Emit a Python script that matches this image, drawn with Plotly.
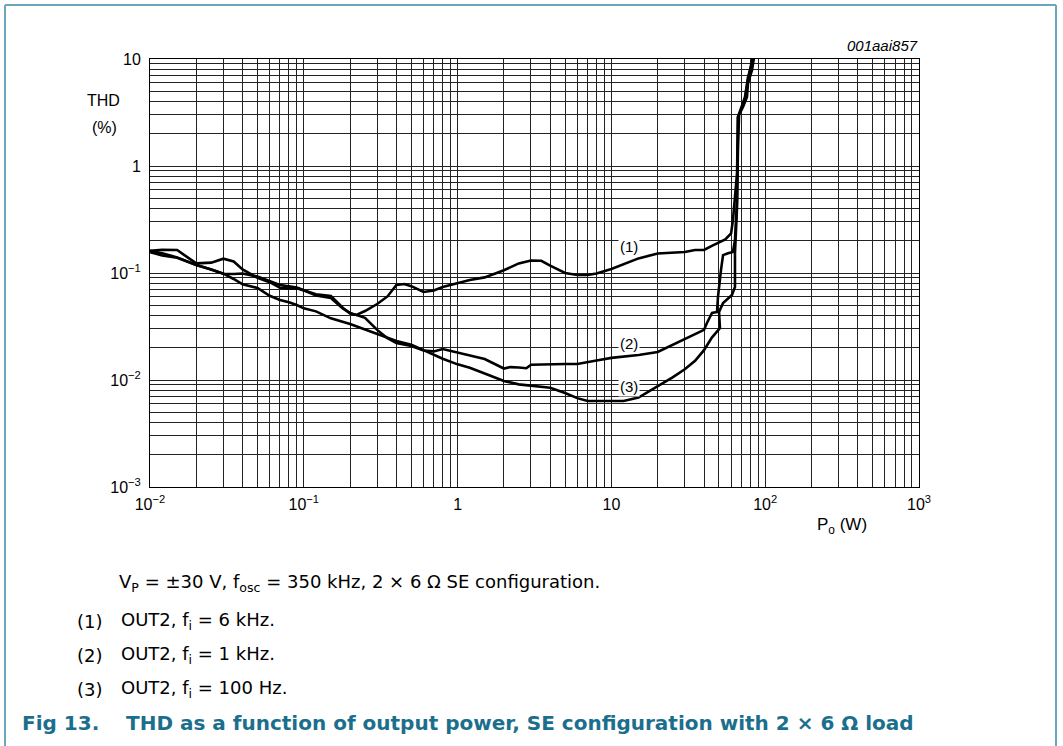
import plotly.graph_objects as go

# ---------------- data ----------------
p_6k = [0.01, 0.012, 0.015, 0.02, 0.025, 0.03, 0.035, 0.04, 0.05, 0.06, 0.07, 0.08, 0.09, 0.1,
        0.12, 0.15, 0.18, 0.2, 0.22, 0.25, 0.3, 0.35, 0.4, 0.45, 0.5, 0.6, 0.7, 0.8, 1, 1.2, 1.5,
        2, 2.5, 3, 3.5, 4, 5, 6, 7, 8, 10, 12, 15, 20, 25, 30, 35, 40, 45, 50, 55, 60, 61.7,
        63.6, 65.6, 66.5, 71.7, 76.1, 77.3, 82.1, 84.6]
thd_6k = [0.161, 0.165, 0.164, 0.123, 0.125, 0.136, 0.128, 0.108, 0.090, 0.082, 0.0727, 0.0715,
          0.0722, 0.069, 0.0632, 0.0609, 0.0471, 0.0418, 0.0405, 0.0441, 0.0513, 0.0604, 0.0772,
          0.0789, 0.0753, 0.0664, 0.0686, 0.0741, 0.0808, 0.086, 0.091, 0.106, 0.123, 0.131, 0.130,
          0.117, 0.100, 0.0958, 0.0958, 0.099, 0.109, 0.121, 0.137, 0.152, 0.154, 0.157, 0.164,
          0.164, 0.179, 0.193, 0.206, 0.234, 0.313, 0.513, 0.860, 2.87, 3.56, 4.41, 5.96, 7.89, 10.4]

p_1k = [0.01, 0.012, 0.015, 0.02, 0.025, 0.03, 0.035, 0.04, 0.05, 0.06, 0.07, 0.08, 0.09, 0.1,
        0.12, 0.15, 0.18, 0.2, 0.25, 0.3, 0.35, 0.4, 0.5, 0.6, 0.7, 0.8, 1, 1.2, 1.5, 2, 2.2, 2.5,
        2.8, 3, 4, 5, 6, 7, 8, 10, 12, 15, 20, 25, 30, 35, 40, 41.8, 45.1, 48.6, 49.3, 51.6, 53.2,
        57.3, 61.7, 63.6, 65.6, 66.5, 67.6, 73.9, 77.3, 80.9, 83.0]
thd_1k = [0.161, 0.153, 0.140, 0.119, 0.108, 0.0985, 0.098, 0.099, 0.0925, 0.0842, 0.0772, 0.075,
          0.0733, 0.069, 0.0616, 0.0585, 0.0463, 0.0424, 0.0381, 0.0294, 0.0246, 0.0222, 0.0208,
          0.0189, 0.0185, 0.0195, 0.0180, 0.017, 0.0157, 0.0128, 0.0132, 0.0131, 0.0129, 0.0139,
          0.0141, 0.0141, 0.0141, 0.0148, 0.0152, 0.0161, 0.0166, 0.0171, 0.0183, 0.0214, 0.0240,
          0.0269, 0.0294, 0.0341, 0.0423, 0.0432, 0.0596, 0.107, 0.147, 0.153, 0.157, 0.203, 0.481,
          1.41, 3.00, 4.14, 6.36, 8.79, 10.4]

p_100 = [0.01, 0.012, 0.015, 0.02, 0.025, 0.03, 0.035, 0.04, 0.05, 0.06, 0.07, 0.08, 0.09, 0.1,
         0.12, 0.15, 0.2, 0.25, 0.3, 0.4, 0.5, 0.6, 0.7, 0.8, 1, 1.2, 1.5, 2, 2.5, 3, 4, 5, 6, 7,
         8, 10, 12, 15, 20, 25, 30, 35, 40, 45, 50.8, 50.1, 53.2, 60.8, 63.6, 63.6, 65.6, 66.5,
         73.9, 77.3, 84.6]
thd_100 = [0.157, 0.146, 0.139, 0.119, 0.108, 0.0985, 0.0879, 0.0783, 0.0724, 0.0613, 0.0559,
           0.0533, 0.0502, 0.0467, 0.0438, 0.0377, 0.0334, 0.0297, 0.0268, 0.0232, 0.0214, 0.0189,
           0.0170, 0.0158, 0.0140, 0.0130, 0.0115, 0.0098, 0.0091, 0.0088, 0.00846, 0.00756,
           0.00677, 0.00636, 0.00636, 0.00636, 0.00636, 0.00685, 0.00875, 0.0106, 0.0126, 0.0151,
           0.019, 0.0249, 0.0306, 0.0432, 0.0524, 0.0623, 0.074, 0.153, 0.414, 2.87, 4.41, 6.79, 10.4]

series_names = ["(1)", "(2)", "(3)"]

x_tickvals = [0.01, 0.1, 1, 10, 100, 1000]
x_ticktext = ["10<sup>\u22122</sup>", "10<sup>\u22121</sup>", "1", "10", "10<sup>2</sup>", "10<sup>3</sup>"]
y_tickvals = [0.001, 0.01, 0.1, 1, 10]
y_ticktext = ["10<sup>\u22123</sup>", "10<sup>\u22122</sup>", "10<sup>\u22121</sup>", "1", "10"]

# ---------------- layout helpers (screen pixels) ----------------
W, H = 1063, 746
L, R, T, B = 150, 919, 59, 487


def px(x):
    return (x - L) / (R - L)


def py(y):
    return (B - y) / (B - T)


FONT = "Liberation Sans, Arial, sans-serif"
NOTE_FONT = "DejaVu Sans, Liberation Sans, sans-serif"
TEAL = "#1b6f8c"
BORDER = "#6aa6bd"
GRID = "#222222"

minor_x = [m * 10.0 ** e for e in range(-2, 3) for m in range(2, 10)]
minor_y = [m * 10.0 ** e for e in range(-3, 1) for m in range(2, 10)]

fig = go.Figure()
for name, xs, ys in zip(series_names, [p_6k, p_1k, p_100], [thd_6k, thd_1k, thd_100]):
    fig.add_trace(go.Scatter(x=xs, y=ys, mode="lines", name=name,
                             line=dict(color="black", width=2.6), showlegend=False))

axis_common = dict(type="log", showgrid=True, gridcolor=GRID, gridwidth=1,
                   showline=True, linecolor="black", linewidth=1, mirror=True,
                   ticks="", zeroline=False,
                   tickfont=dict(family=FONT, size=16, color="black"))

fig.update_xaxes(range=[-2, 3], tickvals=x_tickvals, ticktext=x_ticktext,
                 minor=dict(tickvals=minor_x, showgrid=True, gridcolor=GRID, gridwidth=1, ticks=""),
                 ticklabelstandoff=3, **axis_common)
fig.update_yaxes(range=[-3, 1], tickvals=y_tickvals, ticktext=y_ticktext,
                 minor=dict(tickvals=minor_y, showgrid=True, gridcolor=GRID, gridwidth=1, ticks=""),
                 ticklabelstandoff=5, **axis_common)

ann = []
# curve labels with white boxes (knock out the grid)
label_pos = [(629, 246), (629, 343), (629, 386)]
for name, (lx, ly) in zip(series_names, label_pos):
    ann.append(dict(x=px(lx), y=py(ly), xref="paper", yref="paper", text=name, showarrow=False,
                    font=dict(family=FONT, size=15, color="black"), bgcolor="white",
                    borderpad=1, xanchor="center", yanchor="middle"))

# axis titles and figure code
ann.append(dict(x=px(103), y=py(100), xref="paper", yref="paper", text="THD", showarrow=False,
                font=dict(family=FONT, size=16, color="black"), xanchor="center", yanchor="middle"))
ann.append(dict(x=px(104), y=py(127), xref="paper", yref="paper", text="(%)", showarrow=False,
                font=dict(family=FONT, size=16, color="black"), xanchor="center", yanchor="middle"))
ann.append(dict(x=px(842), y=py(526), xref="paper", yref="paper", text="P<sub>o</sub> (W)",
                showarrow=False, font=dict(family=FONT, size=17, color="black"),
                xanchor="center", yanchor="middle"))
ann.append(dict(x=px(920), y=py(46), xref="paper", yref="paper", text="<i>001aai857</i>",
                showarrow=False, font=dict(family=FONT, size=15, color="black"),
                xanchor="right", yanchor="middle"))

# notes below the chart
ann.append(dict(x=px(117), y=py(583), xref="paper", yref="paper",
                text="V<sub>P</sub> = \u00b130 V, f<sub>osc</sub> = 350 kHz, 2 \u00d7 6 \u03a9 SE configuration.",
                showarrow=False, font=dict(family=NOTE_FONT, size=18, color="black"),
                xanchor="left", yanchor="middle"))
notes = ["OUT2, f<sub>i</sub> = 6 kHz.", "OUT2, f<sub>i</sub> = 1 kHz.", "OUT2, f<sub>i</sub> = 100 Hz."]
for name, txt, ny in zip(series_names, notes, [621, 655, 689]):
    ann.append(dict(x=px(75), y=py(ny), xref="paper", yref="paper", text=name, showarrow=False,
                    font=dict(family=NOTE_FONT, size=18, color="black"), xanchor="left", yanchor="middle"))
    ann.append(dict(x=px(119), y=py(ny), xref="paper", yref="paper", text=txt, showarrow=False,
                    font=dict(family=NOTE_FONT, size=18, color="black"), xanchor="left", yanchor="middle"))

# figure caption
ann.append(dict(x=px(20), y=py(723), xref="paper", yref="paper", text="<b>Fig 13.</b>",
                showarrow=False, font=dict(family=NOTE_FONT, size=20, color=TEAL),
                xanchor="left", yanchor="middle"))
ann.append(dict(x=px(124), y=py(723), xref="paper", yref="paper",
                text="<b>THD as a function of output power, SE configuration with 2 \u00d7 6 \u03a9 load</b>",
                showarrow=False, font=dict(family=NOTE_FONT, size=20, color=TEAL),
                xanchor="left", yanchor="middle"))

shapes = [
    dict(type="line", xref="paper", yref="paper", x0=px(5), x1=px(5), y0=py(770), y1=py(5),
         line=dict(color=BORDER, width=2)),
    dict(type="line", xref="paper", yref="paper", x0=px(5), x1=px(1056), y0=py(5), y1=py(5),
         line=dict(color=BORDER, width=2)),
    dict(type="line", xref="paper", yref="paper", x0=px(1056), x1=px(1056), y0=py(5), y1=py(770),
         line=dict(color=BORDER, width=2)),
]

fig.update_layout(width=W, height=H,
                  margin=dict(l=L, r=W - R, t=T, b=H - B),
                  paper_bgcolor="white", plot_bgcolor="white",
                  annotations=ann, shapes=shapes, showlegend=False)

fig.write_html("out.html", config={"displayModeBar": False},
               post_script="document.body.style.margin='0';")
